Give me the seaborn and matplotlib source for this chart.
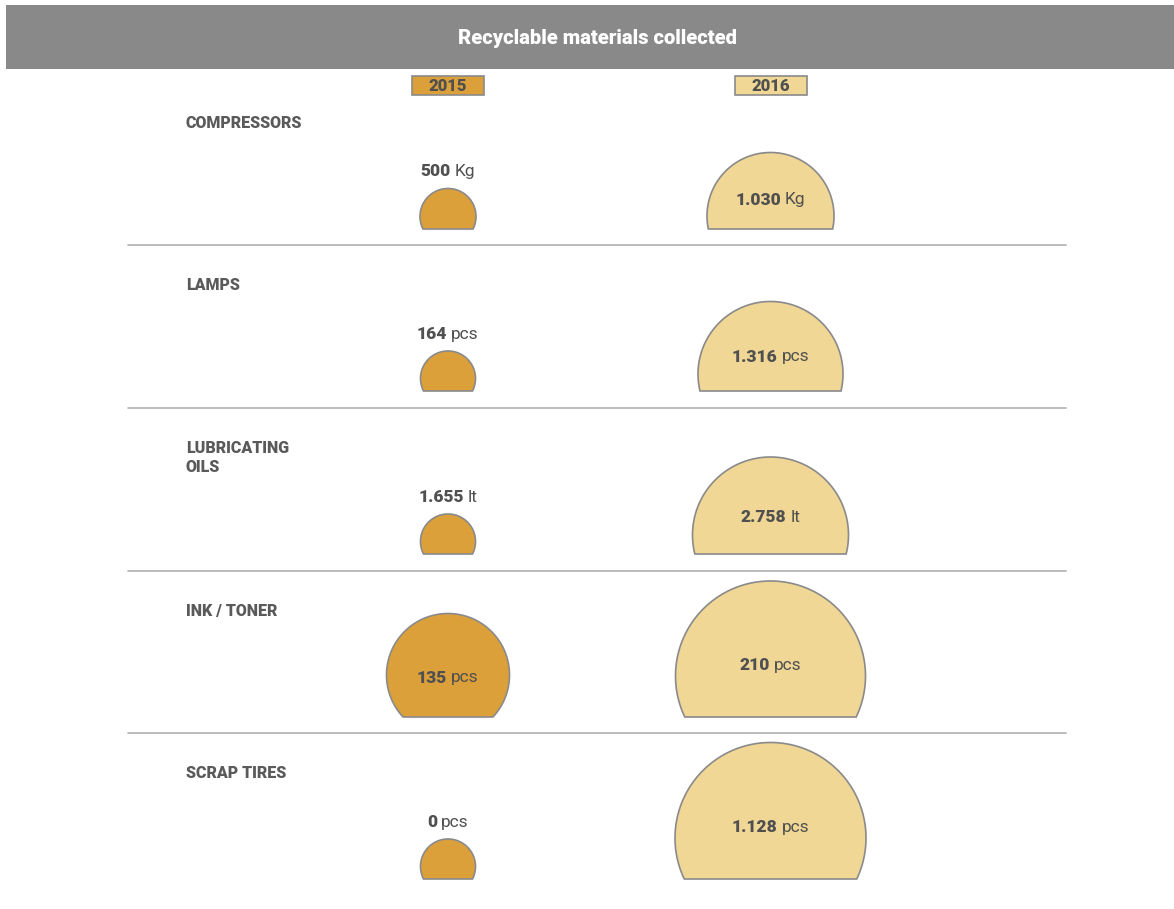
import numpy as np
import matplotlib
matplotlib.use("Agg")
import matplotlib.pyplot as plt
import matplotlib.patches as mpatches
import seaborn as sns

# data
categories = ["COMPRESSORS", "LAMPS", "LUBRICATING\nOILS", "INK / TONER", "SCRAP TIRES"]
years = ["2015", "2016"]
values_2015 = [500, 164, 1655, 135, 0]
values_2016 = [1030, 1316, 2758, 210, 1128]
units = ["Kg", "pcs", "lt", "pcs", "pcs"]

# layout (pixels)
W, H = 1174, 909
col_x = [448, 770.5]
row_top = [83, 245, 408, 571, 733]
radius = [[28, 27.5, 27.5, 61.5, 27.5], [63.5, 72.5, 78, 95, 95.5]]
cut = [[12.5, 12.5, 12.5, 42, 12.5], [13, 17, 19, 41, 41]]

sns.set_theme(style="white")
plt.rcParams["font.family"] = ["Roboto", "DejaVu Sans"]
palette = ["#DCA03A", "#F0D795"]
edge = "#8a8a8a"
txt = "#505050"

fig = plt.figure(figsize=(W / 100, H / 100), dpi=100)
ax = fig.add_axes([0, 0, 1, 1])
ax.set_xlim(0, W)
ax.set_ylim(H, 0)
ax.axis("off")

# title bar
ax.add_patch(mpatches.Rectangle((6, 5), W - 6, 64, facecolor="#898989", edgecolor="none"))
ax.text(597, 38, "Recyclable materials collected", color="white", fontsize=14.5,
        fontweight="heavy", ha="center", va="center")

# legend boxes
for i, yr in enumerate(years):
    ax.add_patch(mpatches.Rectangle((col_x[i] - 36, 76), 72, 19, facecolor=palette[i],
                                    edgecolor=edge, lw=1.2))
    ax.text(col_x[i], 86, yr, color=txt, fontsize=12, fontweight="heavy",
            ha="center", va="center")

# separators
for y in row_top[1:]:
    ax.plot([128, 1066], [y, y], color="#b0b0b0", lw=1.2)

fig.canvas.draw()
renderer = fig.canvas.get_renderer()


def value_label(x, y, num, unit):
    t1 = ax.text(x, y, num, color=txt, fontsize=12.5, fontweight="heavy", ha="left", va="center")
    t2 = ax.text(x, y, unit, color=txt, fontsize=12.5, ha="left", va="center")
    w1 = t1.get_window_extent(renderer).width
    w2 = t2.get_window_extent(renderer).width
    gap = 4
    total = w1 + gap + w2
    t1.set_x(x - total / 2)
    t2.set_x(x - total / 2 + w1 + gap)


series = [values_2015, values_2016]
for r, cat in enumerate(categories):
    base = row_top[r] + 146
    ax.text(186, row_top[r] + 32, cat, color="#5a5a5a", fontsize=11.5, fontweight="heavy",
            ha="left", va="top", linespacing=1.25)
    for c in range(2):
        rad = radius[c][r]
        cy = base - cut[c][r]
        th0 = np.arcsin(cut[c][r] / rad)
        ang = np.linspace(-th0, np.pi + th0, 200)
        xs = col_x[c] + rad * np.cos(ang)
        ys = cy - rad * np.sin(ang)
        ax.add_patch(mpatches.Polygon(np.column_stack([xs, ys]), closed=True,
                                      facecolor=palette[c], edgecolor=edge, lw=1.2))
        top = cy - rad
        num = f"{series[c][r]:,}".replace(",", ".")
        if rad < 40:
            value_label(col_x[c], top - 17, num, units[r])
        else:
            value_label(col_x[c], top + 0.62 * (base - top), num, units[r])

fig.savefig("out.png", dpi=100, facecolor="white")
